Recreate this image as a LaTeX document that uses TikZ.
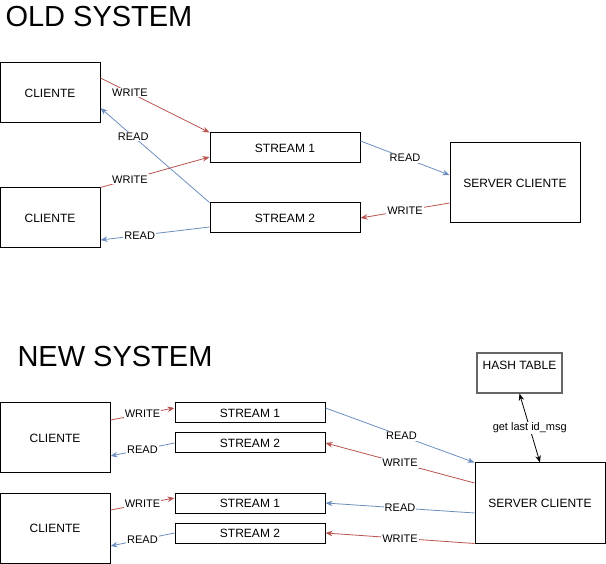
\documentclass[tikz,border=0pt]{standalone}
\usepackage{fontspec}
\setmainfont{Liberation Sans}
\usetikzlibrary{positioning,arrows.meta}
\definecolor{wrred}{HTML}{B85450}
\definecolor{rdblue}{HTML}{6C8EBF}
\tikzset{>={Stealth[length=7pt,width=5.5pt]}}

\begin{document}
\begin{tikzpicture}[x=1pt, y=-1pt, line width=1pt,
    box/.style={draw=black, fill=white, inner sep=0pt, font=\fontsize{12}{14}\selectfont},
    wr/.style={draw=wrred, line width=0.8pt, ->},
    rd/.style={draw=rdblue, line width=0.8pt, ->},
    lbl/.style={fill=white, inner sep=1pt, text=black, font=\fontsize{11}{13}\selectfont},
    title/.style={anchor=base west, inner sep=0pt, font=\fontsize{29}{33}\selectfont}]
    \useasboundingbox (0,0) rectangle (606,564);

    % old system
    \node [title] (oldtitle) at (5,27) {OLD SYSTEM};
    \node [box, minimum width=100pt, minimum height=60pt] (cli_1) at (50,93) {CLIENTE};
    \node [box, minimum width=100pt, minimum height=60pt] (cli_2) at (50,218) {CLIENTE};
    \node [box, minimum width=150pt, minimum height=30pt] (str_1) at (285,148) {STREAM 1};
    \node [box, minimum width=150pt, minimum height=30pt] (str_2) at (285,218) {STREAM 2};
    \node [box, minimum width=130pt, minimum height=80pt] (srv) at (515,183) {SERVER CLIENTE};

    \draw [wr] ([yshift=15pt]cli_1.east) -- node [lbl, pos=0.27] {WRITE} (str_1.north west);
    \draw [rd] (str_2.north west) -- node [lbl, pos=0.7] {READ} ([yshift=-15pt]cli_1.east);
    \draw [wr] (cli_2.north east) -- node [lbl, pos=0.27] {WRITE} ([yshift=-9pt]str_1.west);
    \draw [rd] ([yshift=-9pt]str_2.west) -- node [lbl, pos=0.64] {READ} ([yshift=-22pt]cli_2.east);
    \draw [rd] ([yshift=7pt]str_1.east) -- node [lbl] {READ} ([yshift=8pt]srv.west);
    \draw [wr] ([yshift=-20pt]srv.west) -- node [lbl] {WRITE} (str_2.east);

    % new system
    \node [title] (newtitle) at (17,367) {NEW SYSTEM};
    \node [box, minimum width=110pt, minimum height=70pt] (ncli_1) at (55,438) {CLIENTE};
    \node [box, minimum width=110pt, minimum height=70pt] (ncli_2) at (55,528) {CLIENTE};
    \node [box, minimum width=150pt, minimum height=20pt] (nstr_11) at (250,413) {STREAM 1};
    \node [box, minimum width=150pt, minimum height=20pt] (nstr_12) at (250,443) {STREAM 2};
    \node [box, minimum width=150pt, minimum height=20pt] (nstr_21) at (250,503) {STREAM 1};
    \node [box, minimum width=150pt, minimum height=20pt] (nstr_22) at (250,533) {STREAM 2};
    \node [box, draw=black!60, line width=1.3pt, minimum width=85pt, minimum height=40pt,
        label={[anchor=north, yshift=-5pt, font=\fontsize{12}{14}\selectfont]north:HASH TABLE}] (hash) at (519.5,373) {};
    \node [box, minimum width=130pt, minimum height=80pt] (nsrv) at (540,503) {SERVER CLIENTE};

    \draw [wr] ([yshift=18pt]ncli_1.east) -- node [lbl] {WRITE} ([yshift=5pt]nstr_11.west);
    \draw [rd] (nstr_12.west) -- node [lbl] {READ} ([yshift=-18pt]ncli_1.east);
    \draw [wr] ([yshift=18pt]ncli_2.east) -- node [lbl] {WRITE} ([yshift=5pt]nstr_21.west);
    \draw [rd] (nstr_22.west) -- node [lbl] {READ} ([yshift=-18pt]ncli_2.east);

    \draw [rd] ([yshift=5pt]nstr_11.east) -- node [lbl, pos=0.51] {READ} (nsrv.north west);
    \draw [wr] ([yshift=20pt]nsrv.west) -- node [lbl] {WRITE} (nstr_12.east);
    \draw [rd] ([yshift=-10pt]nsrv.west) -- node [lbl] {READ} (nstr_21.east);
    \draw [wr] (nsrv.south west) -- node [lbl] {WRITE} (nstr_22.east);
    \draw [black, line width=0.8pt, <->] (hash.south) -- node [lbl] {get last id\_msg} (nsrv.north);
\end{tikzpicture}
\end{document}
